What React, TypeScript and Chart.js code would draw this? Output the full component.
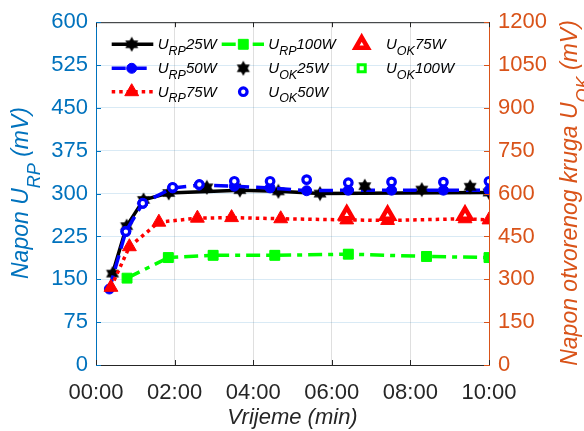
import React, { useEffect, useRef } from 'react';
import { Chart, registerables } from 'chart.js';

Chart.register(...registerables);

// ---------------- data ----------------
const xTicks = [0, 2, 4, 6, 8, 10];
const leftTicks = [0, 75, 150, 225, 300, 375, 450, 525, 600];
const rightTicks = [0, 150, 300, 450, 600, 750, 900, 1050, 1200];

const tRp25 = [0.42, 0.78, 1.21, 1.85, 3.66, 4.64, 5.7, 10.0];
const uRp25 = [160, 243, 289, 301, 306, 304, 300, 302];

const tRp50 = [0.34, 0.76, 1.19, 1.95, 2.63, 3.52, 4.43, 5.36, 6.42, 7.52, 8.84, 10.0];
const uRp50 = [133, 234, 283, 310, 315, 313, 310, 305, 306, 306, 306, 306];

const tRp75 = [0.38, 0.85, 1.6, 2.58, 3.45, 4.7, 6.38, 7.42, 9.39, 10.0];
const uRp75 = [136, 207, 250, 257, 258, 256, 254, 253, 256, 254];

const tRp100 = [0.79, 1.84, 2.98, 4.55, 6.42, 8.41, 10.0];
const uRp100 = [152, 188, 192, 192, 194, 190, 188];

const tOk25 = [2.82, 6.84, 8.29, 9.52];
const uOk25 = [622, 626, 614, 624];

const tOk50 = [0.76, 1.19, 1.95, 2.63, 3.52, 4.43, 5.36, 6.42, 7.52, 8.84, 10.0];
const uOk50 = [467, 566, 622, 632, 643, 643, 649, 638, 641, 640, 643];

const tOk75 = [6.38, 7.42, 9.39];
const uOk75 = [526, 524, 524];

const tOk100 = [1.84, 2.98, 4.55, 6.42, 8.41, 10.0];
const uOk100 = [376, 384, 384, 388, 380, 376];

// ---------------- styles ----------------
const BLUE = 'rgb(0,114,189)';
const ORANGE = 'rgb(217,83,25)';
const TXT = 'rgb(38,38,38)';
const FONT = "'Liberation Sans', Arial, Helvetica, sans-serif";

type Seg = { t: string; sub?: boolean };

function hexagram(): HTMLCanvasElement {
  const c = document.createElement('canvas');
  c.width = 16;
  c.height = 16;
  const g = c.getContext('2d')!;
  const cx = 8, cy = 8, R = 7.5;
  g.fillStyle = '#000';
  for (const start of [-90, 90]) {
    g.beginPath();
    for (let k = 0; k < 3; k++) {
      const a = ((start + 120 * k) * Math.PI) / 180;
      const px = cx + R * Math.cos(a);
      const py = cy + R * Math.sin(a);
      if (k === 0) g.moveTo(px, py);
      else g.lineTo(px, py);
    }
    g.closePath();
    g.fill();
  }
  return c;
}

const pts = (t: number[], v: number[]) => t.map((x, i) => ({ x, y: v[i] }));

function drawRich(
  ctx: CanvasRenderingContext2D,
  segs: Seg[],
  x: number,
  y: number,
  size: number,
  subSize: number,
  subDy: number,
  align: 'left' | 'center',
  color: string
) {
  const fMain = `italic ${size}px ${FONT}`;
  const fSub = `italic ${subSize}px ${FONT}`;
  let total = 0;
  const widths = segs.map((s) => {
    ctx.font = s.sub ? fSub : fMain;
    const w = ctx.measureText(s.t).width;
    total += w;
    return w;
  });
  let cx = align === 'center' ? x - total / 2 : x;
  ctx.fillStyle = color;
  ctx.textBaseline = 'alphabetic';
  ctx.textAlign = 'left';
  segs.forEach((s, i) => {
    ctx.font = s.sub ? fSub : fMain;
    ctx.fillText(s.t, cx, s.sub ? y + subDy : y);
    cx += widths[i];
  });
}

function drawMarker(ctx: CanvasRenderingContext2D, ds: any, x: number, y: number) {
  const style = ds.pointStyle;
  if (typeof style === 'object') {
    ctx.drawImage(style, x - style.width / 2, y - style.height / 2);
    return;
  }
  const r = ds.pointRadius;
  ctx.save();
  ctx.beginPath();
  if (style === 'circle') {
    ctx.arc(x, y, r, 0, Math.PI * 2);
  } else if (style === 'triangle') {
    ctx.moveTo(x, y - r);
    ctx.lineTo(x + 0.866 * r, y + 0.5 * r);
    ctx.lineTo(x - 0.866 * r, y + 0.5 * r);
    ctx.closePath();
  } else if (style === 'rect') {
    const s = Math.SQRT1_2 * r;
    ctx.rect(x - s, y - s, 2 * s, 2 * s);
  }
  ctx.fillStyle = ds.pointBackgroundColor;
  ctx.fill();
  ctx.lineWidth = ds.pointBorderWidth;
  ctx.strokeStyle = ds.pointBorderColor;
  ctx.setLineDash([]);
  ctx.stroke();
  ctx.restore();
}

export default function App() {
  const ref = useRef<HTMLCanvasElement>(null);

  useEffect(() => {
    const star = hexagram();
    const datasets: any[] = [
      {
        label: 'URP25W', seg: [{ t: 'U' }, { t: 'RP', sub: true }, { t: '25W' }],
        data: pts(tRp25, uRp25), yAxisID: 'y', showLine: true,
        borderColor: '#000', borderWidth: 3.5, borderDash: [],
        pointStyle: star, pointRadius: 7, pointBackgroundColor: '#000', pointBorderColor: '#000', pointBorderWidth: 1,
        order: 8, leg: { col: 0, row: 0, line: true },
      },
      {
        label: 'URP50W', seg: [{ t: 'U' }, { t: 'RP', sub: true }, { t: '50W' }],
        data: pts(tRp50, uRp50), yAxisID: 'y', showLine: true,
        borderColor: 'rgb(0,0,255)', borderWidth: 3.5, borderDash: [14, 7],
        pointStyle: 'circle', pointRadius: 5, pointBackgroundColor: 'rgb(0,0,255)', pointBorderColor: 'rgb(0,0,255)', pointBorderWidth: 1,
        order: 7, leg: { col: 0, row: 1, line: true },
      },
      {
        label: 'URP75W', seg: [{ t: 'U' }, { t: 'RP', sub: true }, { t: '75W' }],
        data: pts(tRp75, uRp75), yAxisID: 'y', showLine: true,
        borderColor: 'rgb(255,0,0)', borderWidth: 3.5, borderDash: [3.5, 4],
        pointStyle: 'triangle', pointRadius: 8, pointBackgroundColor: 'rgb(255,0,0)', pointBorderColor: 'rgb(255,0,0)', pointBorderWidth: 1,
        order: 5, leg: { col: 0, row: 2, line: true },
      },
      {
        label: 'URP100W', seg: [{ t: 'U' }, { t: 'RP', sub: true }, { t: '100W' }],
        data: pts(tRp100, uRp100), yAxisID: 'y', showLine: true,
        borderColor: 'rgb(0,255,0)', borderWidth: 3.5, borderDash: [14, 6, 5, 6],
        pointStyle: 'rect', pointRadius: 7, pointBackgroundColor: 'rgb(0,255,0)', pointBorderColor: 'rgb(0,255,0)', pointBorderWidth: 1,
        order: 4, leg: { col: 1, row: 0, line: true },
      },
      {
        label: 'UOK25W', seg: [{ t: 'U' }, { t: 'OK', sub: true }, { t: '25W' }],
        data: pts(tOk25, uOk25), yAxisID: 'y1', showLine: false,
        borderColor: '#000', borderWidth: 0,
        pointStyle: star, pointRadius: 7, pointBackgroundColor: '#000', pointBorderColor: '#000', pointBorderWidth: 1,
        order: 6, leg: { col: 1, row: 1, line: false },
      },
      {
        label: 'UOK50W', seg: [{ t: 'U' }, { t: 'OK', sub: true }, { t: '50W' }],
        data: pts(tOk50, uOk50), yAxisID: 'y1', showLine: false,
        borderColor: 'rgb(0,0,255)', borderWidth: 0,
        pointStyle: 'circle', pointRadius: 3.8, pointBackgroundColor: '#fff', pointBorderColor: 'rgb(0,0,255)', pointBorderWidth: 3.2,
        order: 3, leg: { col: 1, row: 2, line: false },
      },
      {
        label: 'UOK75W', seg: [{ t: 'U' }, { t: 'OK', sub: true }, { t: '75W' }],
        data: pts(tOk75, uOk75), yAxisID: 'y1', showLine: false,
        borderColor: 'rgb(255,0,0)', borderWidth: 0,
        pointStyle: 'triangle', pointRadius: 7, pointBackgroundColor: '#fff', pointBorderColor: 'rgb(255,0,0)', pointBorderWidth: 4.5,
        order: 2, leg: { col: 2, row: 0, line: false },
      },
      {
        label: 'UOK100W', seg: [{ t: 'U' }, { t: 'OK', sub: true }, { t: '100W' }],
        data: pts(tOk100, uOk100), yAxisID: 'y1', showLine: false,
        borderColor: 'rgb(0,255,0)', borderWidth: 0,
        pointStyle: 'rect', pointRadius: 5, pointBackgroundColor: '#fff', pointBorderColor: 'rgb(0,255,0)', pointBorderWidth: 3,
        order: 9, leg: { col: 2, row: 1, line: false },
      },
    ];
    datasets.forEach((d) => {
      d.borderCapStyle = 'butt';
      d.borderJoinStyle = 'round';
      d.pointHoverRadius = d.pointRadius;
      d.tension = 0;
      d.fill = false;
    });

    const rowsY = [44.3, 68.3, 91.7];
    const cols = [
      { x0: 111.7, x1: 153.3, mx: 131.7, tx: 157.7 },
      { x0: 221.7, x1: 264, mx: 243.3, tx: 268.3 },
      { x0: 340, x1: 383, mx: 361.7, tx: 386 },
    ];

    const decor = {
      id: 'decor',
      afterDraw(chart: any) {
        const ctx: CanvasRenderingContext2D = chart.ctx;
        const { left, right, top, bottom } = chart.chartArea;
        const xs = chart.scales.x;
        const yl = chart.scales.y;
        ctx.save();
        // top border
        ctx.strokeStyle = TXT;
        ctx.lineWidth = 1;
        ctx.beginPath();
        ctx.moveTo(left, top + 0.5);
        ctx.lineTo(right, top + 0.5);
        ctx.stroke();
        // inward ticks
        xTicks.forEach((v) => {
          const px = Math.round(xs.getPixelForValue(v)) + 0.5;
          ctx.beginPath();
          ctx.moveTo(px, bottom);
          ctx.lineTo(px, bottom - 5);
          ctx.moveTo(px, top);
          ctx.lineTo(px, top + 5);
          ctx.stroke();
        });
        leftTicks.forEach((v) => {
          const py = Math.round(yl.getPixelForValue(v)) + 0.5;
          ctx.strokeStyle = BLUE;
          ctx.beginPath();
          ctx.moveTo(left, py);
          ctx.lineTo(left + 5, py);
          ctx.stroke();
        });
        const yr = chart.scales.y1;
        rightTicks.forEach((v) => {
          const py = Math.round(yr.getPixelForValue(v)) + 0.5;
          ctx.strokeStyle = ORANGE;
          ctx.beginPath();
          ctx.moveTo(right, py);
          ctx.lineTo(right - 5, py);
          ctx.stroke();
        });

        // legend
        datasets.forEach((d) => {
          const c = cols[d.leg.col];
          const y = rowsY[d.leg.row];
          if (d.leg.line) {
            ctx.save();
            ctx.strokeStyle = d.borderColor;
            ctx.lineWidth = d.borderWidth;
            ctx.lineCap = 'butt';
            ctx.setLineDash(d.borderDash);
            ctx.beginPath();
            ctx.moveTo(c.x0, y);
            ctx.lineTo(c.x1, y);
            ctx.stroke();
            ctx.restore();
          }
          drawMarker(ctx, d, c.mx, y);
          drawRich(ctx, d.seg, c.tx, y + 5, 15, 12.5, 5.7, 'left', '#000');
        });

        // axis titles
        drawRich(ctx, [{ t: 'Vrijeme (min)' }], (left + right) / 2, 424, 22, 16, 0, 'center', TXT);

        ctx.save();
        ctx.translate(28.3, 193);
        ctx.rotate(-Math.PI / 2);
        drawRich(ctx, [{ t: 'Napon U' }, { t: 'RP', sub: true }, { t: ' (mV)' }], 0, 0, 23, 18, 12, 'center', BLUE);
        ctx.restore();

        ctx.save();
        ctx.translate(577, 193);
        ctx.rotate(-Math.PI / 2);
        drawRich(ctx, [{ t: 'Napon otvorenog kruga U' }, { t: 'OK', sub: true }, { t: ' (mV)' }], 0, 0, 23, 18, 12, 'center', ORANGE);
        ctx.restore();

        ctx.restore();
      },
    };

    const tickFont = { family: FONT, size: 22 };

    const chart = new Chart(ref.current!, {
      type: 'line',
      data: { datasets },
      options: {
        responsive: false,
        animation: false,
        devicePixelRatio: 1,
        layout: { padding: { top: 20, left: 0, right: 0, bottom: 0 } },
        plugins: { legend: { display: false }, tooltip: { enabled: false } },
        events: [],
        scales: {
          x: {
            type: 'linear',
            position: 'bottom',
            min: 0,
            max: 10,
            afterFit: (s: any) => { s.height = 66; },
            afterBuildTicks: (s: any) => { s.ticks = xTicks.map((v) => ({ value: v })); },
            ticks: {
              color: TXT,
              font: tickFont,
              padding: 15,
              autoSkip: false,
              maxRotation: 0,
              callback: (v: any) => `${String(v).padStart(2, '0')}:00`,
            },
            grid: { color: 'rgba(38,38,38,0.15)', drawTicks: false },
            border: { color: TXT, width: 1 },
          },
          y: {
            type: 'linear',
            position: 'left',
            min: 0,
            max: 600,
            afterFit: (s: any) => { s.width = 96; },
            afterBuildTicks: (s: any) => { s.ticks = leftTicks.map((v) => ({ value: v })); },
            ticks: { color: BLUE, font: tickFont, padding: 8, autoSkip: false, callback: (v: any) => String(v) },
            grid: { color: 'rgba(0,114,189,0.15)', drawTicks: false },
            border: { color: BLUE, width: 1 },
          },
          y1: {
            type: 'linear',
            position: 'right',
            min: 0,
            max: 1200,
            afterFit: (s: any) => { s.width = 95; },
            afterBuildTicks: (s: any) => { s.ticks = rightTicks.map((v) => ({ value: v })); },
            ticks: { color: ORANGE, font: tickFont, padding: 9, autoSkip: false, callback: (v: any) => String(v) },
            grid: { drawOnChartArea: false, drawTicks: false },
            border: { color: ORANGE, width: 1 },
          },
        },
      },
      plugins: [decor],
    } as any);

    return () => chart.destroy();
  }, []);

  return (
    <div style={{ position: 'fixed', left: 0, top: 0, width: 584, height: 431, background: '#fff' }}>
      <canvas ref={ref} width={584} height={431} style={{ display: 'block', width: 584, height: 431 }} />
    </div>
  );
}
